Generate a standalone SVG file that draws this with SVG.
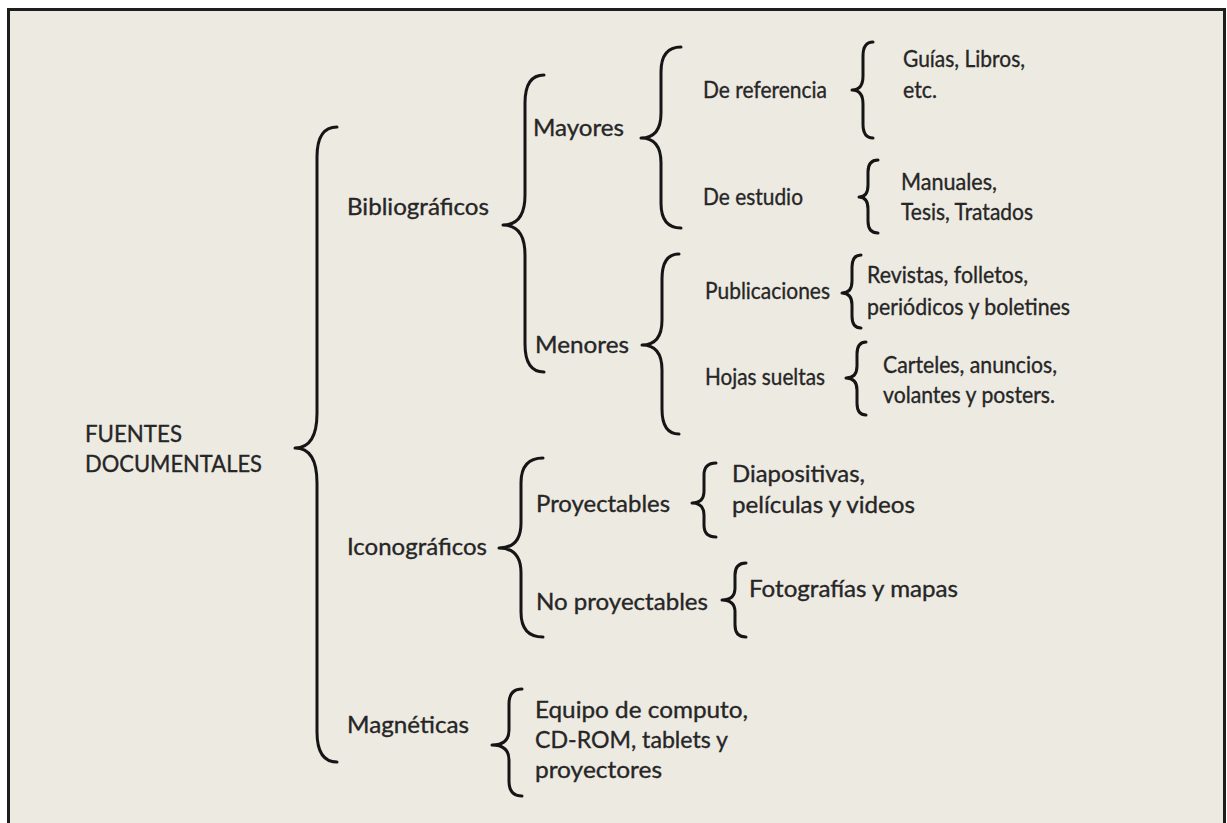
<svg xmlns="http://www.w3.org/2000/svg" width="1227" height="823" viewBox="0 0 1227 823">
<style>
.t{font-family:Lato,"Open Sans","Liberation Sans",sans-serif;font-size:23.5px;fill:#262626;stroke:#262626;stroke-width:0.35}
.b{fill:none;stroke:#151515;stroke-width:3;stroke-linecap:round;stroke-linejoin:round}
</style>
<rect x="0" y="0" width="1227" height="823" fill="#ffffff"/>
<rect x="9" y="10" width="1215" height="813" fill="#EDEAE2"/>
<path d="M8.5,823 V9.5 H1224.5 V823" fill="none" stroke="#1e1e1e" stroke-width="3"/>
<g id="connectors">
<path class="b" d="M337,127 Q317,127 317,157 L317,413 Q317,448 295,448 Q317,448 317,483 L317,732 Q317,762 337,762"/>
<path class="b" d="M544,75 Q525,75 525,103 L525,195 Q525,225 503,225 Q525,225 525,255 L525,344 Q525,372 544,372"/>
<path class="b" d="M681,47 Q661,47 661,72 L661,113 Q661,138 641,138 Q661,138 661,163 L661,203 Q661,228 681,228"/>
<path class="b" d="M679,254 Q662,254 662,279 L662,320 Q662,345 642,345 Q662,345 662,370 L662,409 Q662,434 679,434"/>
<path class="b" d="M873,42 Q863,42 863,56 L863,76 Q863,90 852,90 Q863,90 863,104 L863,124 Q863,138 873,138"/>
<path class="b" d="M878,160 Q868,160 868,172 L868,185 Q868,197 859,197 Q868,197 868,209 L868,221 Q868,233 878,233"/>
<path class="b" d="M861,255 Q852,255 852,267 L852,281 Q852,293 842,293 Q852,293 852,305 L852,316 Q852,328 861,328"/>
<path class="b" d="M866,342 Q857,342 857,354 L857,366 Q857,378 846,378 Q857,378 857,390 L857,403 Q857,415 866,415"/>
<path class="b" d="M543,458 Q521,458 521,483 L521,523 Q521,548 499,548 Q521,548 521,573 L521,612 Q521,637 543,637"/>
<path class="b" d="M716,463 Q704,463 704,475 L704,491 Q704,503 692,503 Q704,503 704,515 L704,525 Q704,537 716,537"/>
<path class="b" d="M746,563 Q735,563 735,575 L735,588 Q735,600 722,600 Q735,600 735,612 L735,625 Q735,637 746,637"/>
<path class="b" d="M522,689 Q509,689 509,704 L509,730 Q509,745 492,745 Q509,745 509,760 L509,781 Q509,796 522,796"/>
</g>
<g id="fuentes"><text class="t" x="85" y="442" textLength="97" lengthAdjust="spacingAndGlyphs">FUENTES</text><text class="t" x="85" y="472" textLength="177" lengthAdjust="spacingAndGlyphs">DOCUMENTALES</text></g>
<g id="bibliograficos"><text class="t" x="347" y="215" textLength="142" lengthAdjust="spacingAndGlyphs">Bibliográficos</text></g>
<g id="iconograficos"><text class="t" x="347" y="555" textLength="140" lengthAdjust="spacingAndGlyphs">Iconográficos</text></g>
<g id="magneticas"><text class="t" x="347" y="733" textLength="122" lengthAdjust="spacingAndGlyphs">Magnéticas</text></g>
<g id="mayores"><text class="t" x="533" y="136" textLength="91" lengthAdjust="spacingAndGlyphs">Mayores</text></g>
<g id="menores"><text class="t" x="535" y="353" textLength="94" lengthAdjust="spacingAndGlyphs">Menores</text></g>
<g id="proyectables"><text class="t" x="536" y="512" textLength="134" lengthAdjust="spacingAndGlyphs">Proyectables</text></g>
<g id="no-proyectables"><text class="t" x="536" y="610" textLength="172" lengthAdjust="spacingAndGlyphs">No proyectables</text></g>
<g id="de-referencia"><text class="t" x="703" y="98" textLength="124" lengthAdjust="spacingAndGlyphs">De referencia</text></g>
<g id="de-estudio"><text class="t" x="703" y="205" textLength="100" lengthAdjust="spacingAndGlyphs">De estudio</text></g>
<g id="publicaciones"><text class="t" x="705" y="299" textLength="125" lengthAdjust="spacingAndGlyphs">Publicaciones</text></g>
<g id="hojas-sueltas"><text class="t" x="705" y="385" textLength="120" lengthAdjust="spacingAndGlyphs">Hojas sueltas</text></g>
<g id="guias"><text class="t" x="903" y="67" textLength="122" lengthAdjust="spacingAndGlyphs">Guías, Libros,</text><text class="t" x="903" y="98" textLength="34" lengthAdjust="spacingAndGlyphs">etc.</text></g>
<g id="manuales"><text class="t" x="901" y="190" textLength="96" lengthAdjust="spacingAndGlyphs">Manuales,</text><text class="t" x="901" y="220" textLength="132" lengthAdjust="spacingAndGlyphs">Tesis, Tratados</text></g>
<g id="revistas"><text class="t" x="867" y="283" textLength="161" lengthAdjust="spacingAndGlyphs">Revistas, folletos,</text><text class="t" x="867" y="315" textLength="203" lengthAdjust="spacingAndGlyphs">periódicos y boletines</text></g>
<g id="carteles"><text class="t" x="883" y="373" textLength="174" lengthAdjust="spacingAndGlyphs">Carteles, anuncios,</text><text class="t" x="883" y="403" textLength="172" lengthAdjust="spacingAndGlyphs">volantes y posters.</text></g>
<g id="diapositivas"><text class="t" x="732" y="482" textLength="133" lengthAdjust="spacingAndGlyphs">Diapositivas,</text><text class="t" x="732" y="513" textLength="183" lengthAdjust="spacingAndGlyphs">películas y videos</text></g>
<g id="fotografias"><text class="t" x="749" y="597" textLength="209" lengthAdjust="spacingAndGlyphs">Fotografías y mapas</text></g>
<g id="equipo"><text class="t" x="535" y="718" textLength="213" lengthAdjust="spacingAndGlyphs">Equipo de computo,</text><text class="t" x="535" y="748" textLength="193" lengthAdjust="spacingAndGlyphs">CD-ROM, tablets y</text><text class="t" x="535" y="778" textLength="127" lengthAdjust="spacingAndGlyphs">proyectores</text></g>
</svg>
